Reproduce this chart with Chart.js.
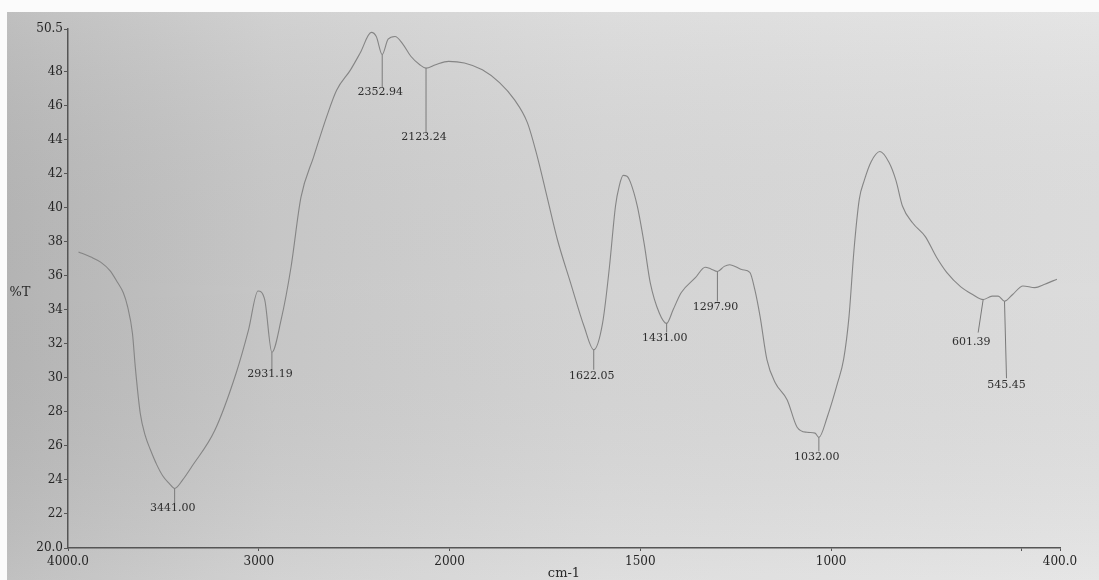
<!DOCTYPE html>
<html>
<head>
<meta charset="utf-8">
<script src="https://cdn.jsdelivr.net/npm/chart.js@4.4.1/dist/chart.umd.min.js"></script>
<style>
  html, body { margin: 0; padding: 0; background: #ffffff; }
  #wrap { position: relative; width: 1099px; height: 580px; }
</style>
</head>
<body>
<div id="wrap"><canvas id="c" width="1099" height="580"></canvas></div>
<script>
// ---------- data ----------
const wavenumbers = [
  3945, 3880, 3829, 3780, 3740, 3710, 3688, 3662, 3647, 3621, 3595, 3569, 3535, 3501, 3470,
  3441.00, 3399, 3350, 3231, 3118, 3054, 3004, 2969, 2931.19, 2883, 2831, 2779, 2712, 2644,
  2592, 2519, 2468, 2410, 2384, 2352.94, 2322, 2286, 2244, 2203, 2156, 2123.24, 2073, 2005,
  1961, 1914, 1869, 1830, 1796, 1770, 1743, 1717, 1683, 1647, 1622.05, 1599, 1581, 1565,
  1555, 1545, 1535, 1526, 1508, 1490, 1474, 1450, 1431.00, 1414, 1393, 1355, 1330, 1315,
  1297.90, 1280, 1266, 1232, 1213, 1200, 1186, 1168, 1146, 1115, 1089, 1063, 1042, 1032.00,
  1010, 983, 967, 953, 940, 926, 913, 895, 872, 848, 830, 813, 786, 753, 724, 697, 660, 629,
  601.39, 578, 562, 545.45, 524, 497, 466, 440, 408
];
const transmittance = [
  37.4, 37.1, 36.8, 36.3, 35.6, 35.0, 34.2, 32.6, 30.6, 27.9, 26.6, 25.8, 24.9, 24.2, 23.8,
  23.5, 24.0, 24.8, 26.9, 30.3, 32.8, 35.1, 34.6, 31.5, 33.4, 36.5, 40.6, 43.0, 45.35,
  46.9, 48.1, 49.1, 50.3, 50.06, 49.0, 49.9, 50.06, 49.6, 48.9, 48.4, 48.2, 48.4, 48.6,
  48.5, 48.1, 47.35, 46.35, 45.0, 43.0, 40.5, 38.1, 35.6, 33.0, 31.65, 33.2, 36.5, 40.1,
  41.3, 41.9, 41.85, 41.5, 40.1, 37.9, 35.6, 33.8, 33.2, 34.0, 35.0, 35.9, 36.5, 36.4,
  36.25, 36.55, 36.65, 36.35, 36.2, 35.2, 33.6, 31.05, 29.7, 28.7, 27.1, 26.8, 26.75, 26.5,
  27.7, 29.7, 31.1, 33.6, 37.5, 40.5, 41.6, 42.7, 43.3, 42.65, 41.6, 40.1, 39.1, 38.3, 37.1, 36.2, 35.35, 34.9,
  34.6, 34.8, 34.8, 34.5, 34.9, 35.4, 35.3, 35.5, 35.8
];
const xTickValues = [4000, 3000, 2000, 1500, 1000, 500, 400];
const xTickLabels = ['4000.0', '3000', '2000', '1500', '1000', '', '400.0'];
const yTickValues = [20, 22, 24, 26, 28, 30, 32, 34, 36, 38, 40, 42, 44, 46, 48, 50.5];
const yTickLabels = ['20.0', '22', '24', '26', '28', '30', '32', '34', '36', '38', '40', '42', '44', '46', '48', '50.5'];
const peakWavenumbers = [3441.00, 2931.19, 2352.94, 2123.24, 1622.05, 1431.00, 1297.90, 1032.00, 601.39, 545.45];
const peakLabels = ['3441.00', '2931.19', '2352.94', '2123.24', '1622.05', '1431.00', '1297.90', '1032.00', '601.39', '545.45'];
const yAxisTitle = '%T';
const xAxisTitle = 'cm-1';

// ---------- IR axis: scale halves above 2000 cm-1 ----------
const SCALE_BREAK = 2000;
class IrWaveScale extends Chart.LinearScale {
  static id = 'irwave';
  static defaults = Chart.LinearScale.defaults;
  _t(v) { return v <= SCALE_BREAK ? v : SCALE_BREAK + (v - SCALE_BREAK) / 2; }
  getPixelForValue(value) {
    if (value === null || value === undefined || isNaN(value)) return NaN;
    const a = this._t(this.min), b = this._t(this.max);
    return this.getPixelForDecimal((this._t(value) - a) / (b - a));
  }
  getValueForPixel(pixel) {
    const a = this._t(this.min), b = this._t(this.max);
    const u = a + this.getDecimalForPixel(pixel) * (b - a);
    return u <= SCALE_BREAK ? u : SCALE_BREAK + (u - SCALE_BREAK) * 2;
  }
}
Chart.register(IrWaveScale);

// ---------- styling ----------
const SERIF = '"DejaVu Serif", "Liberation Serif", serif';
const peakStyle = [
  { drop: 15, text: 20, dx: 0 },
  { drop: 17, text: 22, dx: 0 },
  { drop: 33, text: 38, dx: 0 },
  { drop: 65, text: 69, dx: 0 },
  { drop: 20, text: 26, dx: 0 },
  { drop: 9,  text: 15, dx: 0 },
  { drop: 30, text: 36, dx: 0 },
  { drop: 14, text: 20, dx: 0 },
  { drop: 33, text: 43, dx: -5 },
  { drop: 77, text: 84, dx: 2 }
];

const backgroundPlugin = {
  id: 'paper',
  beforeDraw(chart) {
    const ctx = chart.ctx, w = chart.width, h = chart.height;
    ctx.save();
    const g = ctx.createLinearGradient(0, 0, w, 0);
    g.addColorStop(0, '#b9b9b9');
    g.addColorStop(0.25, '#cdcdcd');
    g.addColorStop(0.55, '#dadada');
    g.addColorStop(1, '#e3e3e3');
    ctx.fillStyle = g;
    ctx.fillRect(0, 0, w, h);
    const g2 = ctx.createLinearGradient(0, 0, 0, h);
    g2.addColorStop(0, 'rgba(255,255,255,0.10)');
    g2.addColorStop(0.5, 'rgba(0,0,0,0.03)');
    g2.addColorStop(1, 'rgba(255,255,255,0.10)');
    ctx.fillStyle = g2;
    ctx.fillRect(0, 0, w, h);
    ctx.fillStyle = '#fbfbfb';
    ctx.fillRect(0, 0, w, 12);
    ctx.fillRect(0, 0, 7, h);
    ctx.restore();
  }
};

const annotatePlugin = {
  id: 'irPeaks',
  afterDatasetsDraw(chart) {
    const ctx = chart.ctx;
    const xs = chart.scales.x, ys = chart.scales.y;
    ctx.save();
    ctx.strokeStyle = '#7a7a7a';
    ctx.lineWidth = 1;
    ctx.fillStyle = '#2e2e2e';
    ctx.font = '11px ' + SERIF;
    ctx.textAlign = 'center';
    ctx.textBaseline = 'middle';
    peakWavenumbers.forEach((wn, i) => {
      const idx = wavenumbers.indexOf(wn);
      const px = xs.getPixelForValue(wn);
      const py = ys.getPixelForValue(transmittance[idx]);
      const st = peakStyle[i];
      ctx.beginPath();
      ctx.moveTo(px, py);
      ctx.lineTo(px + st.dx, py + st.drop);
      ctx.stroke();
      ctx.fillText(peakLabels[i], px + st.dx * 2 - 2, py + st.text);
    });
    // axis titles
    ctx.font = '13px ' + SERIF;
    ctx.fillStyle = '#2a2a2a';
    ctx.fillText(yAxisTitle, 20, 293);
    ctx.fillText(xAxisTitle, (chart.chartArea.left + chart.chartArea.right) / 2, 574);
    ctx.restore();
  }
};

new Chart(document.getElementById('c'), {
  type: 'line',
  data: {
    datasets: [{
      data: wavenumbers.map((w, i) => ({ x: w, y: transmittance[i] })),
      borderColor: '#858585',
      borderWidth: 1.1,
      pointRadius: 0,
      fill: false,
      cubicInterpolationMode: 'monotone'
    }]
  },
  options: {
    responsive: false,
    animation: false,
    devicePixelRatio: 1,
    layout: { padding: { top: 29, right: 39, left: 0, bottom: 0 } },
    plugins: { legend: { display: false }, tooltip: { enabled: false }, title: { display: false } },
    scales: {
      x: {
        type: 'irwave',
        min: 400,
        max: 4000,
        reverse: true,
        afterFit(s) { s.height = 32; },
        afterBuildTicks(s) { s.ticks = xTickValues.map(v => ({ value: v })); },
        grid: { drawOnChartArea: false, drawTicks: true, tickLength: 3, color: '#555', lineWidth: 1 },
        border: { display: true, color: '#555', width: 1.5 },
        ticks: {
          autoSkip: false, maxRotation: 0, minRotation: 0, padding: 4,
          color: '#262626', font: { family: SERIF, size: 12 },
          callback: (v, i) => xTickLabels[i]
        }
      },
      y: {
        type: 'linear',
        min: 20,
        max: 50.5,
        afterFit(s) { s.width = 68; },
        afterBuildTicks(s) { s.ticks = yTickValues.map(v => ({ value: v })); },
        grid: { drawOnChartArea: false, drawTicks: true, tickLength: 4, color: '#555', lineWidth: 1 },
        border: { display: true, color: '#555', width: 1.5 },
        ticks: {
          autoSkip: false, padding: 1,
          color: '#262626', font: { family: SERIF, size: 12 },
          callback: (v, i) => yTickLabels[i]
        }
      }
    }
  },
  plugins: [backgroundPlugin, annotatePlugin]
});
</script>
</body>
</html>
